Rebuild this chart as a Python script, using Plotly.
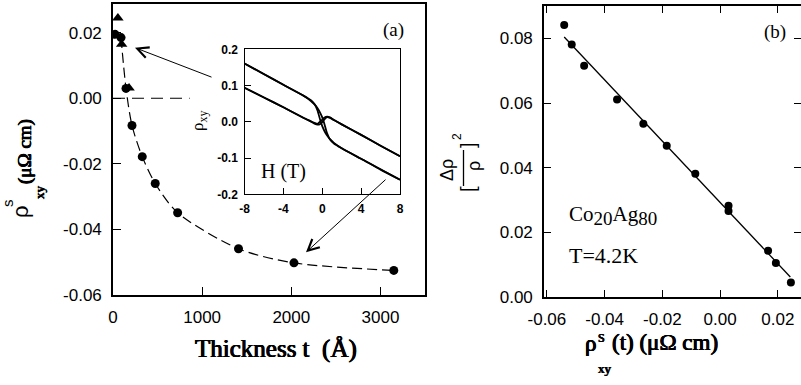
import plotly.graph_objects as go

# ---------------- data: panel (a) ----------------
thick_circ_t = [22, 90, 146, 213, 328, 474, 725, 1408, 2030, 3150]
thick_circ_rho = [0.0195, 0.0185, 0.0030, -0.0083, -0.0178, -0.0260, -0.0349, -0.0459, -0.0502, -0.0525]
thick_tri_t = [55, 97, 180]
thick_tri_rho = [0.0245, 0.0165, 0.0031]
guide_t = [90, 146, 213, 328, 474, 725, 1408, 2030, 3150]
guide_rho = [0.0185, 0.0030, -0.0083, -0.0178, -0.0260, -0.0349, -0.0459, -0.0502, -0.0525]
zero_t = [0, 860]
zero_rho = [0, 0]

# inset: Hall loops rho_xy(H)
inset_H = [-8, -6, -4, -2, -1.2, -0.8, -0.5, -0.2, 0, 0.2, 0.5, 0.8, 1.2, 2, 4, 6, 8]
loopA_up = [0.161, 0.132, 0.102, 0.073, 0.058, 0.048, 0.038, 0.024, 0.012, -0.004, -0.032, -0.049, -0.060, -0.073, -0.102, -0.131, -0.160]
loopA_down = [0.161, 0.131, 0.102, 0.073, 0.060, 0.049, 0.032, 0.004, -0.012, -0.024, -0.038, -0.048, -0.058, -0.073, -0.102, -0.132, -0.160]
loopB_up = [0.094, 0.067, 0.040, 0.012, 0.001, -0.005, -0.008, -0.006, -0.001, 0.006, 0.013, 0.011, 0.005, -0.007, -0.036, -0.066, -0.095]
loopB_down = [0.094, 0.067, 0.040, 0.012, 0.002, -0.003, -0.006, 0.001, 0.006, 0.011, 0.014, 0.012, 0.005, -0.007, -0.036, -0.066, -0.095]

# ---------------- data: panel (b) ----------------
b_rho_xy = [-0.0540, -0.0514, -0.0471, -0.0357, -0.0266, -0.0185, -0.0086, 0.0029, 0.0029, 0.0166, 0.0193, 0.0245]
b_mr_sq = [0.0841, 0.0781, 0.0715, 0.0611, 0.0536, 0.0468, 0.0381, 0.0282, 0.0266, 0.0143, 0.0105, 0.0045]
fit_x = [-0.0540, 0.0243]
fit_y = [0.0804, 0.0062]

# ---------------- ticks ----------------
a_xticks = [0, 1000, 2000, 3000]
a_xtext = ["0", "1000", "2000", "3000"]
a_yticks = [-0.06, -0.04, -0.02, 0.0, 0.02]
a_ytext = ["-0.06", "-0.04", "-0.02", "0.00", "0.02"]
in_xticks = [-8, -4, 0, 4, 8]
in_xtext = ["-8", "-4", "0", "4", "8"]
in_yticks = [-0.2, -0.1, 0.0, 0.1, 0.2]
in_ytext = ["-0.2", "-0.1", "0.0", "0.1", "0.2"]
b_xticks = [-0.06, -0.04, -0.02, 0.0, 0.02]
b_xtext = ["-0.06", "-0.04", "-0.02", "0.00", "0.02"]
b_yticks = [0.0, 0.02, 0.04, 0.06, 0.08]
b_ytext = ["0.00", "0.02", "0.04", "0.06", "0.08"]

W, H = 801, 385


def px(x):
    return x / W


def py(y):
    return 1 - y / H


fig = go.Figure()
BLK = "black"

# panel (a)
fig.add_trace(go.Scatter(x=zero_t, y=zero_rho, mode="lines",
                         line=dict(color=BLK, width=1.2, dash="12px,7px"),
                         xaxis="x", yaxis="y", showlegend=False))
fig.add_trace(go.Scatter(x=guide_t, y=guide_rho, mode="lines",
                         line=dict(color=BLK, width=1.2, dash="10px,5px", shape="spline", smoothing=0.8),
                         xaxis="x", yaxis="y", showlegend=False))
fig.add_trace(go.Scatter(x=thick_circ_t, y=thick_circ_rho, mode="markers",
                         marker=dict(symbol="circle", size=9, color=BLK),
                         xaxis="x", yaxis="y", showlegend=False))
fig.add_trace(go.Scatter(x=thick_tri_t, y=thick_tri_rho, mode="markers",
                         marker=dict(symbol="triangle-up", size=10, color=BLK),
                         xaxis="x", yaxis="y", showlegend=False))

# inset
for ys in (loopA_up, loopA_down, loopB_up, loopB_down):
    fig.add_trace(go.Scatter(x=inset_H, y=ys, mode="lines",
                             line=dict(color=BLK, width=1.8, shape="spline", smoothing=0.6),
                             xaxis="x3", yaxis="y3", showlegend=False))

# panel (b)
fig.add_trace(go.Scatter(x=fit_x, y=fit_y, mode="lines",
                         line=dict(color=BLK, width=1.3),
                         xaxis="x2", yaxis="y2", showlegend=False))
fig.add_trace(go.Scatter(x=b_rho_xy, y=b_mr_sq, mode="markers",
                         marker=dict(symbol="circle", size=8, color=BLK),
                         xaxis="x2", yaxis="y2", showlegend=False))

tickfont = dict(family="Liberation Sans, Arial", size=17, color=BLK)
insetfont = dict(family="Liberation Sans, Arial", size=12, color=BLK, weight="bold")

common = dict(showgrid=False, zeroline=False, showline=True, linecolor=BLK,
              ticks="inside", tickcolor=BLK, automargin=False)

fig.update_layout(
    width=W, height=H,
    margin=dict(l=0, r=0, t=0, b=0),
    paper_bgcolor="white", plot_bgcolor="white",
    xaxis=dict(domain=[px(113), px(425)], range=[0, 3500], anchor="y",
               tickvals=a_xticks, ticktext=a_xtext, tickfont=tickfont,
               linewidth=1.6, ticklen=8, tickwidth=1.4, mirror=True, ticklabelstandoff=6, **common),
    yaxis=dict(domain=[py(295), py(3.5)], range=[-0.06, 0.0289], anchor="x",
               tickvals=a_yticks, ticktext=a_ytext, tickfont=tickfont,
               linewidth=1.6, ticklen=8, tickwidth=1.4, mirror=True, ticklabelstandoff=6, **common),
    xaxis2=dict(domain=[px(544), 1.0], range=[-0.061, 0.028], anchor="y2",
                tickvals=b_xticks, ticktext=b_xtext, tickfont=tickfont,
                linewidth=1.6, ticklen=7, tickwidth=1.4, mirror="ticks", ticklabelstandoff=6, **common),
    yaxis2=dict(domain=[py(297), py(6)], range=[0, 0.09], anchor="x2",
                tickvals=b_yticks, ticktext=b_ytext, tickfont=tickfont,
                linewidth=1.6, ticklen=7, tickwidth=1.4, mirror="ticks", ticklabelstandoff=6, **common),
    xaxis3=dict(domain=[px(244.5), px(400)], range=[-8, 8], anchor="y3",
                tickvals=in_xticks, ticktext=in_xtext, tickfont=insetfont,
                linewidth=1.4, ticklen=6, tickwidth=1.2, mirror=True, ticklabelstandoff=3, **common),
    yaxis3=dict(domain=[py(194.3), py(49.3)], range=[-0.2, 0.2], anchor="x3",
                tickvals=in_yticks, ticktext=in_ytext, tickfont=insetfont,
                linewidth=1.4, ticklen=6, tickwidth=1.2, mirror=True, ticklabelstandoff=3, **common),
)

serif = "Liberation Serif"
SHADOW = "0.5px 0 0 black, -0.5px 0 0 black, 0 0.4px 0 black"
ann = []


def text(x, y, t, size=18, family=serif, angle=0, bold=False, xanchor="center"):
    f = dict(family=family, size=size, color=BLK)
    if bold:
        f["shadow"] = SHADOW
    ann.append(dict(x=px(x), y=py(y), xref="paper", yref="paper", text=t, showarrow=False,
                    textangle=angle, xanchor=xanchor, yanchor="middle", font=f))


# x title, panel (a)
text(276, 349, "Thickness t  (Å)", size=25, bold=True)

# y title, panel (a): rho^s_xy (μΩ cm), rotated, with stacked indices
text(21, 212, "ρ", size=22, family="Liberation Sans", angle=-90)
text(8, 203, "s", size=15, family="Liberation Sans", angle=-90)
text(40, 192, "xy", size=13, bold=True, angle=-90)
text(25, 152, "(μΩ cm)", size=19, bold=True, angle=-90)

# x title, panel (b): rho^S_xy(t) (μΩ cm) with stacked indices
text(590, 343, "ρ", size=23, bold=True)
text(601, 338, "S", size=12, bold=True)
text(605, 368, "xy", size=13, bold=True)
text(610, 342, "(t) (μΩ cm)", size=23, bold=True, xanchor="left")

# panel (b) y title: [Δρ/ρ]^2
text(447, 170, "Δρ", size=18, family="Liberation Sans", angle=-90)
text(474, 166, "ρ", size=18, family="Liberation Sans", angle=-90)
text(468, 189, "[", size=20, family="Liberation Sans", angle=-90)
text(468, 145, "]", size=20, family="Liberation Sans", angle=-90)
text(457, 136, "2", size=12, family="Liberation Sans", angle=-90)

# panel labels / annotations
SUBF = "<span style='font-size:19px'>%s</span>"
text(393, 30, "(a)", size=19)
text(775, 32, "(b)", size=19)
text(567, 215, "Co<sub>" + SUBF % "20" + "</sub>Ag<sub>" + SUBF % "80" + "</sub>", size=21, xanchor="left")
text(567, 255, "T=4.2K", size=22, xanchor="left")
text(199, 121, "ρ<sub>xy</sub>", size=17, angle=-90)
text(283, 172, "H (T)", size=20)

# arrows
ann.append(dict(x=px(135), y=py(47.7), xref="paper", yref="paper", ax=78, ay=30,
                text="", showarrow=True, arrowhead=5, arrowsize=2.2, arrowwidth=1, arrowcolor=BLK))
ann.append(dict(x=px(306), y=py(252.3), xref="paper", yref="paper", ax=81, ay=-74,
                text="", showarrow=True, arrowhead=5, arrowsize=2.2, arrowwidth=1, arrowcolor=BLK))

fig.update_layout(annotations=ann,
                  shapes=[dict(type="line", xref="paper", yref="paper",
                               x0=px(463.5), x1=px(463.5), y0=py(150), y1=py(186),
                               line=dict(color=BLK, width=1.3))])

fig.write_html("out.html")
